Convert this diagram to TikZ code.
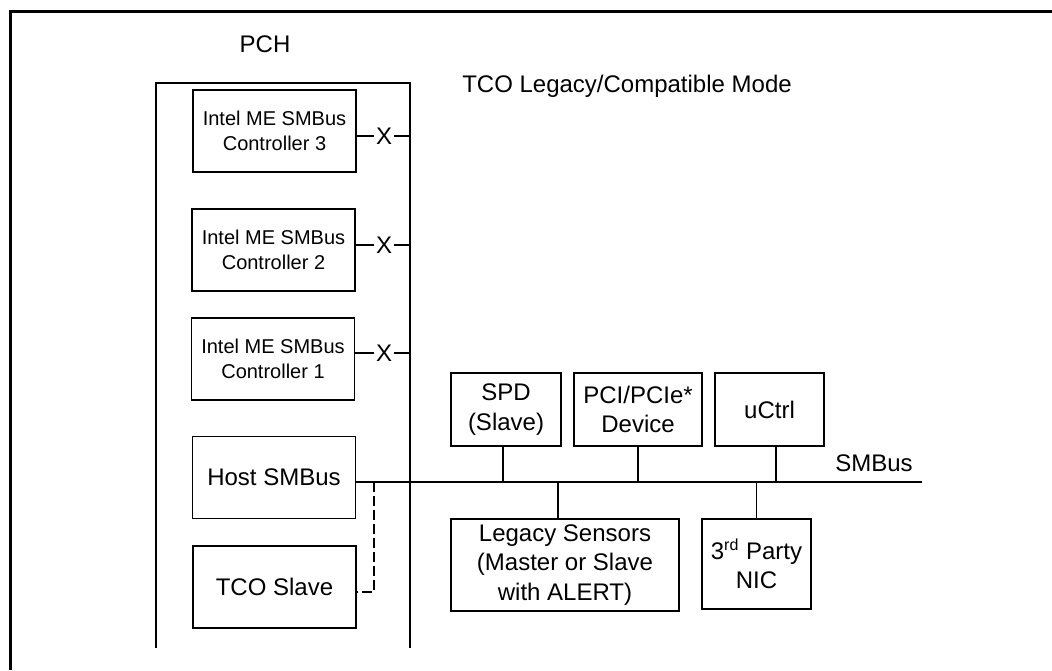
\documentclass[tikz,border=0pt]{standalone}
\usepackage{fontspec}
\setmainfont{Liberation Sans}
\usetikzlibrary{calc}
\begin{document}
\begin{tikzpicture}[x=0.5pt,y=-0.5pt,
  box/.style={draw,line width=0.75pt,inner sep=0pt,minimum width=#1},
  ctrl/.style={box=81.5pt,minimum height=41pt,font=\fontsize{10}{12.5}\selectfont,align=center},
  dev/.style={box=#1,minimum height=36.5pt,font=\fontsize{12}{14.8}\selectfont,align=center},
  lbl/.style={font=\fontsize{12}{14.5}\selectfont,inner sep=0pt},
  wire/.style={line width=0.7pt},
  frame/.style={line width=1.5pt}]
\useasboundingbox (0,0) rectangle (1052,670);
% outer frame (top and left only)
\coordinate (fTL) at (10,11);
\coordinate (fTR) at (1052,11);
\coordinate (fBL) at (10,670);
\draw[frame] (fBL) -- (fTL) -- (fTR);
% PCH box (no bottom)
\coordinate (pBL) at (156,648);
\coordinate (pTL) at (156,83);
\coordinate (pTR) at (410,83);
\coordinate (pBR) at (410,648);
\draw[wire] (pBL) -- (pTL) -- (pTR) -- (pBR);
\node[lbl] (pch) at (265,44) {PCH};
\node[lbl] (title) at (627,86) {TCO Legacy/Compatible Mode};
% controllers
\node[ctrl] (c3) at (274.5,131) {Intel ME SMBus\\Controller 3};
\node[ctrl] (c2) at (273.5,250) {Intel ME SMBus\\Controller 2};
\node[ctrl] (c1) at (273,359) {Intel ME SMBus\\Controller 1};
\node[ctrl,font=\fontsize{12}{14.5}\selectfont] (host) at (274,477.5) {Host SMBus};
\node[ctrl,font=\fontsize{12}{14.5}\selectfont] (tco) at (274.5,587) {TCO Slave};
% X connectors
\foreach \c/\y in {c3/136,c2/245,c1/353}{
  \node[lbl,inner xsep=1pt] (x\c) at (384,\y) {X};
  \draw[wire] (\c.east |- x\c) -- (x\c.west);
  \draw[wire] (x\c.east) -- (x\c.east -| pTR);
}
% devices
\node[dev=55pt] (spd) at (506,409.5) {SPD\\(Slave)};
\node[dev=64pt] (pci) at (638,409.5) {PCI/PCIe*\\Device};
\node[dev=54.5pt] (uctrl) at (769.5,409.5) {uCtrl};
\node[dev=114pt,minimum height=46pt] (legacy) at (565,565) {Legacy Sensors\\(Master or Slave\\with ALERT)};
\node[dev=54.5pt,minimum height=45pt] (nic) at (756.5,564) {3\textsuperscript{rd} Party\\NIC};
% bus
\coordinate (bus) at (0,482);
\coordinate (busend) at (922,482);
\draw[wire] (host.east |- bus) -- (busend);
\node[lbl] (smbus) at (874,463) {SMBus};
\coordinate (spdc) at ($(spd.south)+(-3,0)$);
\coordinate (uctc) at ($(uctrl.south)+(6.5,0)$);
\coordinate (legc) at ($(legacy.north)+(-7,0)$);
\draw[wire] (spdc) -- (spdc |- bus);
\draw[wire] (pci.south) -- (pci.south |- bus);
\draw[wire] (uctc) -- (uctc |- bus);
\draw[wire] (legc) -- (legc |- bus);
\draw[wire] (nic.north) -- (nic.north |- bus);
% dashed link to TCO slave
\coordinate (dj) at (374,482);
\coordinate (dend) at ($(tco.east)+(0,5)$);
\draw[line width=1.3pt,dash pattern=on 5pt off 2pt] (dj) -- (dj |- dend) -- (dend);
\end{tikzpicture}
\end{document}
